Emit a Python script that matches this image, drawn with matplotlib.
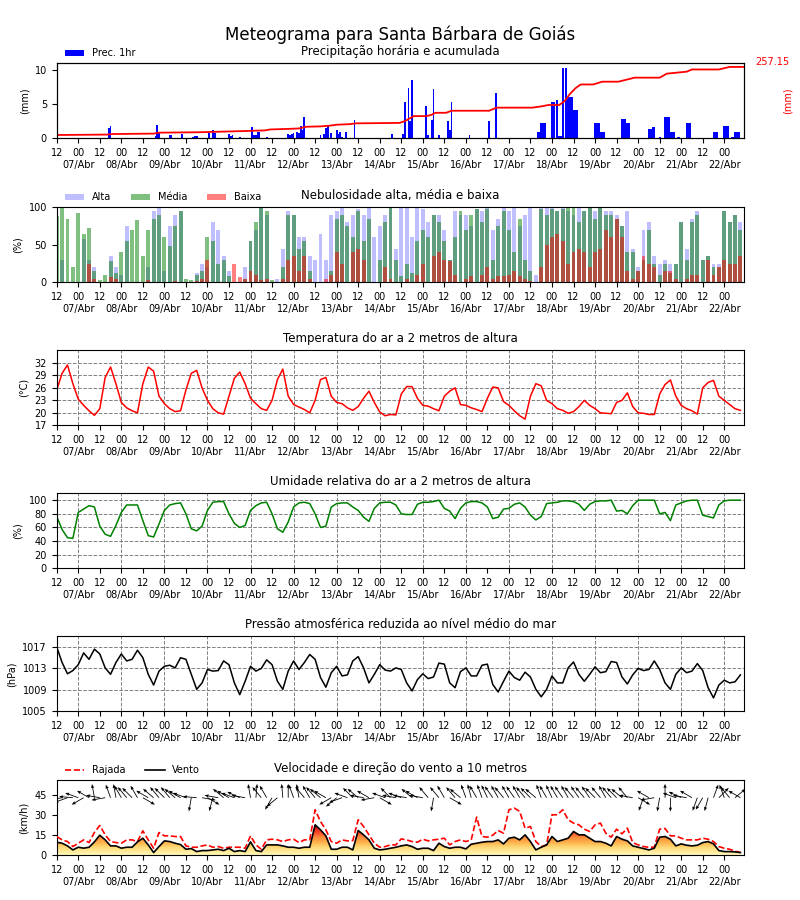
import numpy as np
import matplotlib
matplotlib.use('Agg')
from matplotlib import pyplot as plt
from matplotlib.lines import Line2D

# horas desde 06/Abr 12:00, de 3 em 3 horas
hours = np.arange(0, 384, 3)

temp = [25.5, 29.5, 31.5, 27.0, 23.3, 21.8, 20.5, 19.4, 21.0, 28.5,
        31.0, 27.0, 22.5, 21.2, 20.5, 20.0, 27.0, 31.0, 30.0, 24.0,
        22.2, 21.0, 20.3, 20.5, 25.5, 29.5, 30.2, 26.0, 23.0, 21.0,
        20.0, 19.7, 24.0, 28.3, 29.8, 27.0, 23.5, 22.2, 21.0, 20.6,
        23.0, 28.0, 30.5, 24.0, 22.0, 21.4, 20.8, 20.0, 23.0, 28.0,
        28.5, 24.0, 22.5, 22.2, 21.2, 20.6, 21.5, 23.5, 25.2, 22.5,
        20.2, 19.3, 19.6, 19.5,
        24.5, 26.3, 26.3, 23.5, 21.8, 21.6, 21.0, 20.5, 24.0, 25.2,
        26.0, 22.0, 21.8, 21.2, 20.8, 20.3, 23.5, 26.2, 26.0, 22.7,
        21.8, 20.5, 19.3, 18.5, 24.0, 27.0, 26.5, 23.0, 22.2, 21.0,
        20.6, 19.9, 20.3, 21.5, 23.0, 21.8, 21.0, 20.0, 19.9, 19.8,
        22.5, 23.0, 24.8, 21.5, 20.0, 19.9, 19.6, 19.6, 24.5, 26.8,
        27.9, 24.0, 21.8, 21.0, 20.5, 19.7, 26.0, 27.3, 27.8, 24.0,
        23.0, 22.0, 21.0, 20.6]

rh = [76, 57, 45, 44, 82, 87, 92, 90, 62, 50,
      47, 63, 82, 93, 93, 93, 70, 48, 46, 65,
      85, 93, 95, 96, 80, 58, 55, 62, 85, 97,
      98, 98, 80, 66, 60, 63, 85, 92, 96, 97,
      80, 58, 53, 68, 90, 96, 97, 95, 80, 60,
      62, 90, 95, 96, 96, 90, 85, 75, 69, 88,
      96, 97, 97, 93,
      80, 79, 79, 94, 97, 97, 98, 100, 88, 84,
      73, 88, 96, 98, 98, 96, 90, 73, 75, 87,
      88, 94, 96, 90, 78, 71, 76, 95, 96, 97,
      99, 99, 98, 94, 85, 94, 98, 99, 99, 100,
      84, 85, 80, 92, 100, 100, 100, 100, 80, 82,
      70, 93, 96, 99, 100, 100, 78, 76, 74, 93,
      99, 100, 100, 100]

pres = [1017.0, 1014.1, 1012.0, 1012.6, 1013.7, 1015.9, 1014.7, 1016.6, 1015.7, 1013.1,
        1011.9, 1014.1, 1015.7, 1014.4, 1014.7, 1016.4, 1015.0, 1011.9, 1009.9, 1012.5,
        1013.4, 1013.6, 1013.1, 1015.0, 1014.7, 1011.9, 1009.1, 1010.3, 1012.8, 1012.5,
        1012.6, 1014.4, 1013.7, 1010.3, 1008.1, 1010.6, 1013.4, 1012.5, 1013.0, 1014.6,
        1013.7, 1010.6, 1009.1, 1012.5, 1014.4, 1012.8, 1014.1, 1015.6, 1014.7, 1011.3,
        1009.5, 1012.2, 1013.4, 1011.6, 1011.8, 1014.4, 1015.2, 1013.1, 1010.3, 1011.9,
        1013.7, 1012.7, 1012.5, 1013.1,
        1012.8, 1010.3, 1008.8, 1010.9, 1012.0, 1011.1, 1011.4, 1014.0, 1013.8, 1010.3,
        1009.4, 1012.4, 1013.1, 1011.6, 1011.6, 1013.6, 1013.8, 1010.0, 1008.6, 1010.6,
        1012.5, 1011.3, 1010.8, 1012.3, 1011.4, 1009.1, 1007.7, 1009.1, 1011.6, 1010.3,
        1010.3, 1013.1, 1014.2, 1011.9, 1010.6, 1011.9, 1013.3, 1012.2, 1012.4, 1014.3,
        1014.1, 1011.4, 1010.1, 1011.8, 1013.0, 1012.6, 1012.8, 1014.4, 1012.8, 1010.3,
        1009.1, 1011.9, 1013.1, 1012.2, 1012.5, 1013.9, 1012.6, 1009.4, 1007.5, 1009.9,
        1010.8, 1010.3, 1010.5, 1011.8]

wind = [9.75, 9.0, 7.0, 4.0, 6.0, 5.3, 6.0, 10.0, 15.0, 11.5,
        7.0, 7.0, 5.3, 6.0, 6.0, 10.0, 12.75, 7.75, 2.0, 6.5,
        10.75, 10.25, 9.0, 8.0, 4.5, 5.0, 2.75, 3.5, 3.5, 4.0,
        4.5, 3.5, 5.25, 2.75, 3.5, 2.75, 10.0, 3.5, 2.75, 7.75,
        7.75, 7.75, 7.0, 6.0, 6.0, 5.25, 6.0, 6.0, 22.75, 19.0,
        14.5, 4.5, 4.5, 6.0, 6.0, 4.0, 18.5, 15.25, 11.5, 5.25,
        4.0, 4.5, 5.25, 6.0,
        7.0, 7.75, 6.5, 4.5, 5.25, 5.25, 3.5, 9.0, 6.5, 5.25,
        6.0, 6.0, 4.75, 8.25, 9.0, 9.75, 10.25, 10.25, 11.5, 8.5,
        12.75, 13.5, 11.5, 15.25, 10.25, 4.0, 6.0, 7.75, 14.0, 10.25,
        11.5, 12.75, 17.75, 15.25, 15.25, 12.75, 10.25, 10.25, 9.0, 7.0,
        14.0, 12.0, 10.75, 7.0, 6.0, 5.0, 4.0, 5.25, 13.5, 14.0,
        12.0, 7.0, 8.5, 7.5, 7.0, 7.5, 9.5, 10.25, 8.5, 3.5,
        2.75, 2.75, 2.5, 2.0]

gust = [14.0, 11.5, 10.25, 6.5, 9.0, 11.5, 9.5, 17.0, 22.25, 15.25,
        10.25, 9.5, 9.0, 11.5, 11.5, 10.25, 18.25, 11.5, 5.25, 17.0,
        14.5, 14.5, 14.0, 14.0, 7.0, 6.0, 6.0, 7.0, 7.75, 6.0,
        6.5, 5.25, 6.0, 6.0, 6.0, 5.25, 14.5, 7.75, 4.5, 11.5,
        12.0, 11.5, 10.25, 11.5, 12.0, 9.5, 11.5, 11.5, 34.0, 25.25,
        19.0, 10.25, 9.0, 11.5, 10.75, 11.0, 26.5, 21.5, 15.25, 9.0,
        6.0, 6.5, 7.75, 7.75,
        12.25, 11.5, 10.25, 9.75, 12.0, 10.75, 11.5, 12.0, 12.75, 7.75,
        10.25, 11.5, 10.25, 11.5, 28.5, 14.0, 13.5, 15.0, 18.5, 16.5,
        34.0, 35.25, 32.75, 20.25, 21.5, 10.25, 6.5, 7.75, 30.25, 30.25,
        34.0, 26.5, 24.0, 22.75, 19.5, 17.75, 22.75, 24.0, 16.5, 13.5,
        19.5, 16.0, 20.25, 9.5, 7.75, 6.5, 6.0, 6.0, 19.5, 20.0,
        14.5, 14.5, 12.75, 11.5, 11.5, 11.5, 12.75, 12.0, 10.25, 6.5,
        5.25, 4.5, 3.0, 2.25]

# direcao de onde vem o vento (graus)
wdir = [100, 80, 70, 95, 110, 60, 120, 170, 100, 80,
        160, 170, 150, 140, 135, 150,
        300, 120, 130, 140,
        135, 140, 130, 120, 110,
        10, 95, 280, 300, 15, 100,
        130, 120, 110, 115, 100, 170,
        185, 140, 150, 30, 50,
        175, 180, 160, 170, 140, 150,
        140, 130, 120, 60, 50, 70,
        110, 135, 130, 100, 120, 80, 300, 110, 135, 100,
        110, 100, 130, 120, 100, 140,
        10, 140, 150, 300, 140, 130,
        160, 165, 150, 160, 155, 145, 150,
        140, 150, 145, 150, 140, 135, 130,
        160, 150, 155, 150, 145, 150, 140, 145,
        140, 145, 135, 140, 150, 140, 135, 130, 140,
        100, 300, 20, 120, 80, 10,
        180, 0, 110, 115, 100, 120,
        20, 30, 15, 200, 225, 160, 140, 230, 120]

cloud_high = [0, 30, 0, 0, 0, 58, 30, 20, 0, 0,
              35, 20, 10, 75, 0, 0, 0, 20, 95, 100,
              15, 75, 90, 95, 0, 0, 12, 25, 20, 80,
              70, 35, 15, 0, 0, 20, 55, 70, 100, 90,
              0, 5, 45, 95, 90, 60, 60, 35, 30, 65,
              30, 90, 95, 100, 80, 90, 98, 90, 100, 60,
              75, 90, 100, 45,
              100, 100, 60, 100, 98, 80, 90, 90, 70, 30,
              95, 90, 90, 75, 98, 95, 100, 70, 85, 100,
              95, 100, 75, 90, 100, 10, 100, 100, 100, 95,
              100, 95, 90, 100, 95, 100, 95, 100, 95, 95,
              90, 75, 95, 45, 20, 70, 80, 35, 25, 30,
              25, 25, 80, 45, 85, 95, 30, 35, 25, 25,
              95, 80, 90, 80]

cloud_mid = [88, 100, 85, 20, 92, 65, 72, 15, 3, 10,
             28, 13, 40, 55, 70, 83, 35, 70, 85, 90,
             60, 48, 75, 95, 5, 3, 10, 15, 60, 55,
             25, 30, 8, 0, 0, 5, 55, 80, 100, 95,
             3, 0, 20, 90, 90, 45, 55, 15, 0, 0,
             0, 15, 85, 90, 75, 60, 95, 55, 85, 0,
             30, 80, 100, 30,
             8, 25, 12, 55, 70, 60, 90, 80, 55, 30,
             60, 95, 70, 90, 98, 80, 98, 30, 75, 95,
             70, 40, 85, 30, 15, 0, 98, 90, 98, 95,
             98, 100, 100, 80, 95, 100, 85, 100, 90, 90,
             85, 75, 40, 40, 15, 30, 70, 25, 10, 25,
             12, 25, 80, 30, 80, 90, 30, 35, 20, 20,
             95, 80, 90, 70]

cloud_low = [0, 0, 0, 0, 0, 0, 25, 5, 0, 0,
             7, 5, 0, 0, 0, 0, 0, 3, 0, 0,
             0, 0, 2, 0, 0, 0, 2, 5, 30, 0,
             0, 0, 0, 25, 7, 5, 15, 10, 3, 5,
             0, 0, 5, 30, 35, 15, 35, 5, 0, 0,
             5, 10, 40, 25, 0, 40, 45, 30, 0, 0,
             0, 20, 5, 0,
             0, 5, 0, 10, 25, 0, 35, 40, 30, 28,
             10, 0, 5, 8, 0, 10, 20, 5, 8, 8,
             10, 15, 8, 5, 2, 0, 20, 50, 60, 65,
             55, 25, 40, 45, 40, 20, 40, 45, 70, 60,
             85, 60, 15, 5, 15, 35, 25, 20, 0, 15,
             15, 5, 0, 5, 10, 10, 0, 30, 10, 20,
             30, 25, 25, 35]

# precipitacao horaria (hora, mm)
precip_hr = [29, 30, 55, 56, 57, 63, 64, 65, 70, 76, 77, 78, 85, 87, 88, 96, 97, 98, 102,
             109, 110, 111, 112, 113, 117, 129, 130, 131, 132, 134, 135, 136, 137, 138,
             147, 149, 150, 151, 153, 156, 157, 158, 159, 161, 166, 187,
             193, 194, 196, 197, 198, 206, 207, 209, 210, 213, 218, 219, 220, 230, 241, 245,
             268, 269, 270, 271, 272, 276, 277, 279, 280, 281, 282, 284, 285, 286, 287,
             288, 289, 290, 300, 301, 302, 303, 304, 305, 315, 316, 317, 318, 319,
             330, 331, 332, 333, 336, 339, 340, 341, 342, 343, 344, 346, 347,
             351, 352, 353, 366, 367, 368, 372, 373, 374, 376, 377, 378, 379, 380]
precip_mm = [1.5, 1.75, 0.3, 1.9, 0.75, 0.5, 0.5, 0.1, 0.6, 0.15, 0.35, 0.35, 0.8, 1.2, 0.8, 0.6, 0.35, 0.5, 0.15,
             1.6, 0.5, 0.5, 0.9, 0.9, 0.2, 0.6, 0.5, 0.7, 0.8, 0.9, 0.8, 1.8, 1.2, 3.1,
             0.5, 0.7, 1.5, 1.8, 0.8, 1.2, 0.7, 0.9, 0.15, 0.9, 2.7, 0.6,
             0.6, 5.3, 7.4, 2.5, 8.6, 4.7, 0.5, 2.7, 7.3, 0.5, 2.6, 1.2, 5.3, 0.5, 2.6, 6.6,
             1.0, 1.0, 2.2, 2.2, 2.2, 5.3, 5.3, 5.6, 0.3, 0.3, 10.3, 10.3, 6.0, 6.0, 6.0,
             4.2, 4.2, 4.2, 2.2, 2.2, 2.2, 1.0, 1.0, 1.0, 2.9, 2.9, 2.9, 2.2, 2.2,
             1.3, 1.3, 1.7, 1.7, 0.2, 3.2, 3.2, 3.2, 0.9, 0.9, 0.9, 0.2, 0.2,
             2.2, 2.2, 2.2, 0.9, 0.9, 0.9, 1.8, 1.8, 1.8, 0.2, 0.2, 0.9, 0.9, 0.9]

# precipitacao acumulada (hora, mm)
acc_hr = [0, 28, 31, 54, 57, 80, 106, 110, 116, 119, 129, 135, 139, 147, 152, 156, 163, 167,
          191, 194, 199, 206, 209, 211, 217, 220, 241, 245, 265, 270, 274, 280, 283, 286,
          289, 292, 299, 304, 313, 318, 322, 336, 340, 351, 354, 369, 375, 383]
acc_mm = [12.0, 13.5, 15.5, 17.0, 20.4, 22.0, 26.5, 27.5, 28.5, 32.0, 34.0, 35.5, 41.7, 43.0,
          45.5, 49.0, 51.0, 54.0, 55.5, 62.0, 80.0, 80.0, 85.0, 92.0, 92.0, 99.4, 99.4, 110.5,
          110.5, 115.0, 120.0, 120.0, 134.0, 160.0, 180.0, 194.0, 194.0, 204.0, 204.0, 212.0,
          218.5, 218.5, 233.0, 240.0, 248.0, 248.0, 257.15, 257.15]
acc_total = 257.15

xmax = 383
tick_pos = np.arange(0, xmax, 12)
tick_lab = ['12' if t % 24 == 0 else '00\n%02d/Abr' % (7 + t // 24) for t in tick_pos]
day_pos = tick_pos[tick_pos % 24 == 12]


def style_x(ax):
    ax.set_xlim(0, xmax)
    ax.set_xticks(tick_pos)
    ax.set_xticklabels(tick_lab)
    ax.tick_params(labelsize=7)


def dashed_grid(ax):
    ax.yaxis.grid(True, linestyle='--', color='gray', linewidth=0.7)
    for d in day_pos:
        ax.axvline(d, linestyle='--', color='gray', linewidth=0.7, zorder=0)


fig = plt.figure(figsize=(8, 9), dpi=100)
fig.suptitle('Meteograma para Santa Bárbara de Goiás', fontsize=12, y=0.972)

left, width, height = 0.0709, 0.8591, 0.0833
bottoms = [0.8463, 0.6863, 0.5274, 0.3685, 0.2097, 0.0497]
axs = [fig.add_axes([left, b, width, height]) for b in bottoms]
tsize = 8.5

# precipitacao
ax = axs[0]
ax.bar(precip_hr, precip_mm, width=1.0, color='blue', label='Prec. 1hr')
ax.set_ylim(0, 11)
ax.set_yticks([0, 5, 10])
ax.set_ylabel('(mm)', fontsize=7)
ax.set_title('Precipitação horária e acumulada', fontsize=tsize)
ax.legend(loc='lower left', bbox_to_anchor=(0.005, 1.0), frameon=False, fontsize=7,
          borderaxespad=0.1)
style_x(ax)
ax2 = ax.twinx()
ax2.plot(acc_hr, acc_mm, color='red', linewidth=1.3)
ax2.set_ylim(0, acc_total * 1.05)
ax2.set_yticks([])
ax2.set_ylabel('(mm)', color='red', fontsize=7)
ax2.yaxis.set_label_coords(1.056, 0.5)
ax2.text(1.041, 1.02, '%.2f' % acc_total, color='red', fontsize=7,
         transform=ax2.transAxes, ha='center', va='center')
ax2.set_xlim(0, xmax)

# nebulosidade
ax = axs[1]
ax.bar(hours, cloud_high, width=2.2, color='blue', alpha=0.25, label='Alta')
ax.bar(hours, cloud_mid, width=2.2, color='green', alpha=0.5, label='Média')
ax.bar(hours, cloud_low, width=2.2, color='red', alpha=0.5, label='Baixa')
ax.set_ylim(0, 100)
ax.set_yticks([0, 50, 100])
ax.set_ylabel('(%)', fontsize=7)
ax.set_title('Nebulosidade alta, média e baixa', fontsize=tsize)
ax.legend(loc='lower left', bbox_to_anchor=(0.005, 1.0), frameon=False, fontsize=7,
          ncol=3, borderaxespad=0.1)
style_x(ax)

# temperatura
ax = axs[2]
ax.plot(hours, temp, color='red', linewidth=1.1)
ax.set_ylim(17, 35)
ax.set_yticks([17, 20, 23, 26, 29, 32])
ax.set_ylabel('(°C)', fontsize=7)
ax.set_title('Temperatura do ar a 2 metros de altura', fontsize=tsize)
dashed_grid(ax)
style_x(ax)

# umidade
ax = axs[3]
ax.plot(hours, rh, color='green', linewidth=1.1)
ax.set_ylim(0, 110)
ax.set_yticks([0, 20, 40, 60, 80, 100])
ax.set_ylabel('(%)', fontsize=7)
ax.set_title('Umidade relativa do ar a 2 metros de altura', fontsize=tsize)
dashed_grid(ax)
style_x(ax)

# pressao
ax = axs[4]
ax.plot(hours, pres, color='black', linewidth=1.1)
ax.set_ylim(1005, 1019)
ax.set_yticks([1005, 1009, 1013, 1017])
ax.set_ylabel('(hPa)', fontsize=7)
ax.set_title('Pressão atmosférica reduzida ao nível médio do mar', fontsize=tsize)
dashed_grid(ax)
style_x(ax)

# vento
ax = axs[5]
poly = ax.fill_between(hours, 0, wind, facecolor='none', edgecolor='none')
grad = np.linspace(0.05, 0.85, 256).reshape(-1, 1)
im = ax.imshow(grad, extent=[0, xmax, 0, 23], origin='lower', aspect='auto',
               cmap='YlOrRd', vmin=0, vmax=1, zorder=1)
im.set_clip_path(poly.get_paths()[0], transform=ax.transData)
ax.plot(hours, gust, color='red', linestyle='--', linewidth=1.2, zorder=3)
ax.plot(hours, wind, color='black', linewidth=1.2, zorder=4)
rad = np.deg2rad(wdir)
ax.quiver(hours, np.full(len(hours), 43.0), -np.sin(rad), -np.cos(rad),
          angles='uv', scale_units='inches', scale=7.2, pivot='tail',
          width=0.0012, headwidth=4, headlength=5, color='black', zorder=5)
ax.set_ylim(0, 56)
ax.set_yticks([0, 15, 30, 45])
ax.set_ylabel('(km/h)', fontsize=7)
ax.set_title('Velocidade e direção do vento a 10 metros', fontsize=tsize)
handles = [Line2D([], [], color='red', linestyle='--', linewidth=1.2),
           Line2D([], [], color='black', linewidth=1.2)]
ax.legend(handles, ['Rajada', 'Vento'], loc='lower left', bbox_to_anchor=(0.005, 1.0),
          frameon=False, fontsize=7, ncol=2, borderaxespad=0.1)
style_x(ax)

plt.savefig('out.png', dpi=100)
